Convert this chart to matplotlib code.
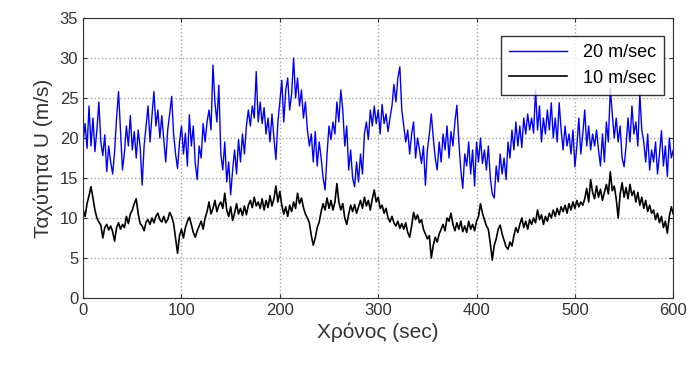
import numpy as np
import matplotlib
matplotlib.use("Agg")
import matplotlib.pyplot as plt

plt.rcParams['font.family'] = ['Liberation Sans', 'DejaVu Sans']

time_step = 2  # seconds between read samples
speed_20 = [
    19.5, 21.8, 18.7, 24.0, 19.0, 22.5, 18.3, 21.0, 24.5, 19.5,
    17.8, 20.4, 15.8, 19.0, 17.0, 15.5, 18.3, 22.5, 25.8, 21.0,
    16.0, 18.2, 21.5, 19.0, 22.8, 18.5, 20.8, 17.5, 21.0, 18.8,
    14.1, 19.0, 21.5, 24.0, 19.5, 22.8, 25.8, 21.5, 23.5, 20.0,
    22.8, 19.8, 17.0, 21.0, 23.0, 25.2, 20.5, 18.0, 16.2, 19.5,
    21.5, 18.0, 20.6, 16.5, 22.9, 19.0, 21.5, 16.8, 14.8, 19.0,
    17.5, 21.8, 19.5, 22.0, 23.5, 21.0, 29.1, 24.5, 22.0, 26.6,
    18.0, 16.0, 19.5, 14.5, 17.0, 12.9, 16.0, 18.5, 15.5, 19.8,
    17.0, 20.5, 18.0, 21.5, 23.5, 21.5, 24.0, 22.5, 28.3, 22.0,
    24.5, 21.8, 23.8, 20.5, 22.5, 19.5, 23.0, 20.0, 17.3, 22.0,
    24.5, 27.2, 22.0, 26.0, 27.5, 23.5, 25.5, 30.0, 25.0, 27.5,
    24.0, 26.0, 22.5, 24.5, 21.0, 19.0, 20.5, 17.0, 20.8, 16.5,
    19.5, 17.5, 15.0, 13.5, 18.0, 21.5, 19.8, 22.0, 20.5, 24.5,
    22.0, 26.0, 23.5, 19.0, 21.5, 16.0, 18.5, 15.0, 13.9, 17.0,
    14.5, 18.0, 15.5, 20.5, 22.0, 19.8, 23.5, 21.5, 24.0, 21.8,
    23.5, 20.5, 24.2, 21.8, 23.0, 20.8, 22.5, 24.0, 26.7, 24.5,
    27.5, 28.9, 23.5, 21.5, 19.5, 21.0, 18.0, 20.5, 22.0, 17.5,
    20.0, 18.5, 16.8, 19.0, 14.1, 18.5, 20.5, 23.0, 20.0, 17.5,
    16.0, 19.5, 17.0, 20.5, 18.5, 21.5, 17.5, 20.8, 19.0, 22.0,
    24.1, 19.5, 16.0, 13.7, 18.0, 16.5, 19.5, 15.5, 18.5, 14.0,
    19.5, 17.0, 20.0, 16.8, 18.5, 16.0, 19.0, 15.0, 13.0, 12.5,
    16.5, 14.5, 18.0, 15.5, 17.5, 14.8, 19.5, 17.5, 21.0, 18.5,
    22.0, 19.0, 21.5, 18.8, 22.5, 20.5, 23.0, 21.0, 22.5, 20.6,
    26.0, 21.0, 24.0, 19.5, 22.5, 20.5, 23.5, 21.0, 24.4, 20.0,
    22.5, 19.5, 24.4, 21.0, 18.5, 21.5, 19.0, 20.5, 18.0, 21.0,
    16.4, 19.0, 22.5, 18.0, 20.5, 23.5, 19.0, 21.5, 18.5, 20.5,
    19.0, 21.0, 18.5, 16.5, 20.5, 17.0, 22.0, 19.5, 26.2, 23.0,
    20.0, 22.5, 19.5, 21.5, 17.5, 16.4, 19.0, 22.5, 19.5, 24.0,
    20.5, 22.0, 19.0, 25.5, 21.0, 19.5, 17.0, 20.5, 16.0, 18.5,
    17.0, 19.5, 15.5, 18.0, 20.9, 16.5, 19.0, 15.2, 20.0, 17.5,
    18.5,
]
speed_10 = [
    11.0, 10.2, 11.8, 12.8, 13.9, 12.5, 11.0, 10.0, 9.5, 9.1,
    7.5, 8.8, 9.2, 8.5, 9.0, 8.3, 7.1, 8.8, 9.4, 8.6,
    9.2, 8.8, 10.2, 9.3, 10.5, 11.0, 11.8, 12.4, 10.5, 9.3,
    9.0, 8.4, 9.5, 9.8, 9.2, 10.0, 9.4, 10.2, 10.6, 9.8,
    9.5, 10.2, 9.4, 9.8, 10.7, 10.2, 9.3, 7.5, 5.6, 7.8,
    8.6, 7.5, 8.8, 9.6, 10.1, 9.2, 8.2, 7.6, 8.4, 9.0,
    9.6, 8.6, 10.0, 10.8, 12.0, 10.5, 11.2, 12.2, 10.8, 11.6,
    12.0, 11.2, 13.1, 11.0, 10.2, 11.4, 9.7, 10.6, 11.8, 10.5,
    11.2, 10.3, 11.5, 10.4, 11.6, 12.2, 11.3, 12.6, 11.5, 12.0,
    11.2, 12.4, 11.0, 12.2, 11.3, 12.8, 11.5, 12.4, 14.0, 12.0,
    13.3, 11.6, 10.5, 11.4, 10.2, 11.6, 10.8, 12.0, 11.2, 13.1,
    11.8, 12.5, 11.3, 10.5, 10.0, 9.4, 7.8, 6.6, 7.5, 8.8,
    9.5, 10.8, 11.8, 11.0, 12.5, 11.2, 12.2, 11.0, 12.0, 14.3,
    12.0, 11.0, 11.8, 10.0, 9.2, 10.5, 11.6, 10.8, 11.7, 10.6,
    11.4, 12.2, 11.2, 12.6, 11.5, 12.2, 11.0, 12.4, 13.5, 12.0,
    12.6, 11.2, 11.6, 10.6, 11.2, 10.0, 9.5, 10.2, 9.4, 9.0,
    9.6, 8.7, 9.3, 8.6, 9.4, 8.2, 7.6, 9.0, 10.7, 9.8,
    10.4, 9.4, 9.8, 8.6, 8.0, 7.4, 7.8, 5.0, 6.6, 7.6,
    7.0, 8.0, 8.6, 9.2, 8.4, 10.0, 9.6, 10.6, 9.2, 8.4,
    9.4, 8.6, 9.6, 8.3, 9.0, 8.2, 9.6, 8.6, 9.2, 8.4,
    9.6, 10.2, 11.8, 10.6, 9.8, 9.0, 8.6, 6.8, 4.75, 6.6,
    7.4, 8.6, 9.1, 8.0, 7.2, 6.4, 6.1, 7.0, 6.5, 7.8,
    8.8, 8.2, 9.2, 10.0, 8.8, 9.6, 8.6, 9.8, 9.2, 10.0,
    9.4, 11.0, 9.8, 10.4, 9.2, 10.2, 9.6, 10.6, 10.0, 11.0,
    10.2, 11.2, 10.4, 11.4, 10.8, 11.6, 10.6, 11.8, 11.0, 12.0,
    11.2, 12.2, 11.4, 12.0, 11.6, 12.4, 13.7, 12.0, 14.8, 13.2,
    12.4, 14.0, 12.6, 13.6, 12.2, 13.2, 14.2, 13.0, 15.8, 13.4,
    14.0, 12.4, 10.0, 13.0, 14.4, 12.6, 13.8, 12.4, 14.2, 12.8,
    13.4, 12.0, 13.2, 11.6, 12.6, 11.2, 12.2, 10.8, 11.6, 10.6,
    11.0, 9.8, 10.6, 9.4, 10.2, 8.8, 9.6, 8.1, 10.2, 11.4,
    10.5,
]
series_labels = ['20 m/sec', '10 m/sec']
xticks = [0, 100, 200, 300, 400, 500, 600]
yticks = [0, 5, 10, 15, 20, 25, 30, 35]

t = np.arange(len(speed_20)) * time_step

fig = plt.figure(figsize=(6.87, 3.67), dpi=100)
ax = fig.add_axes([0.121, 0.188, 0.859, 0.763])
ax.plot(t, speed_20, color='#0000ff', lw=1.0, label=series_labels[0])
ax.plot(t, speed_10, color='#000000', lw=1.2, label=series_labels[1])
ax.set_xlim(0, 600)
ax.set_ylim(0, 35)
ax.set_xticks(xticks)
ax.set_yticks(yticks)
ax.grid(True, color='#a8a8a8', linestyle=':', linewidth=1.0)
ax.tick_params(direction='in', length=3, labelsize=12, colors='#333333', top=True, right=True)
for s in ax.spines.values():
    s.set_color('#333333')
    s.set_linewidth(0.8)
ax.set_xlabel('Χρόνος (sec)', fontsize=15, color='#333333', labelpad=3)
ax.set_ylabel('Ταχύτητα U (m/s)', fontsize=15, color='#333333', labelpad=5)
leg = ax.legend(loc='upper right', fontsize=13, frameon=True, fancybox=False,
                edgecolor='black', handlelength=3.2, handletextpad=0.9,
                borderpad=0.45, labelspacing=0.45,
                bbox_to_anchor=(1.0, 0.967))
leg.get_frame().set_linewidth(1.0)
fig.savefig('out.png', dpi=100)
